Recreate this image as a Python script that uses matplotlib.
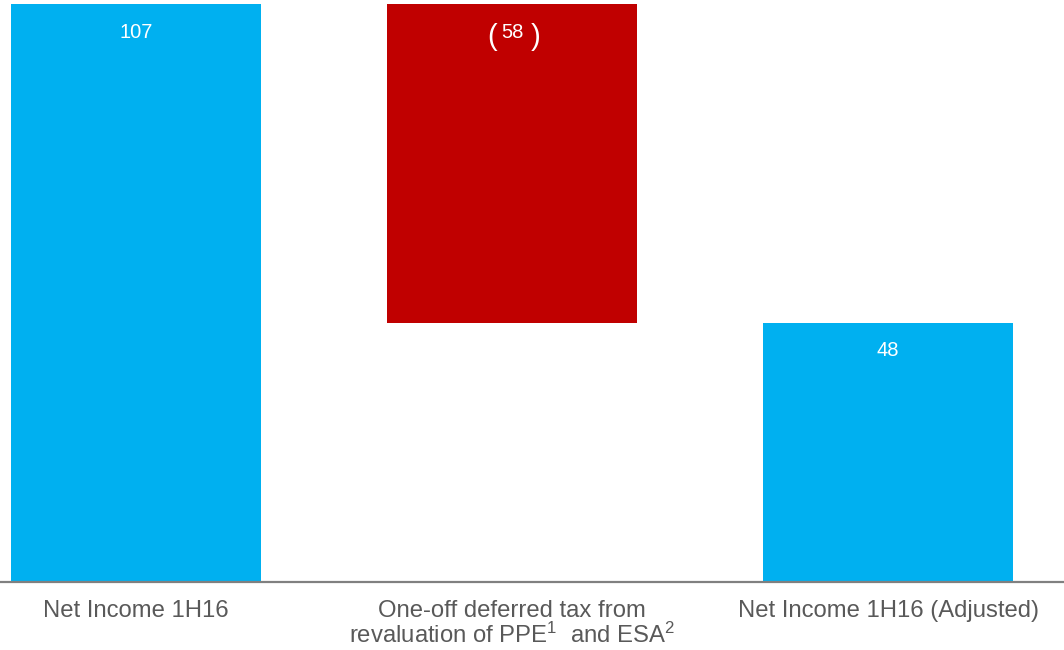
import matplotlib
matplotlib.use("Agg")
import matplotlib.pyplot as plt

plt.rcParams["font.family"] = ["Liberation Sans", "DejaVu Sans"]
plt.rcParams["mathtext.fontset"] = "custom"
plt.rcParams["mathtext.rm"] = "Liberation Sans"
plt.rcParams["mathtext.it"] = "Liberation Sans"
plt.rcParams["mathtext.default"] = "regular"

# ── Data ──────────────────────────────────────────────────────────────────────
categories = [
    "Net Income 1H16",
    "One-off deferred tax from\nrevaluation of PPE$^{1}$  and ESA$^{2}$",
    "Net Income 1H16 (Adjusted)",
]
start_value = 107
change_value = -58
end_value = 48

BLUE = "#00B0F0"
RED = "#C00000"
GREY_TXT = "#595959"

# ── Plot ──────────────────────────────────────────────────────────────────────
fig = plt.figure(figsize=(10.64, 6.5), dpi=100)
ax = fig.add_axes([0, 0.105, 1, 0.895])

x = [0, 1, 2]
w = 0.665

# waterfall: red bar hangs from the start total down to the adjusted total
ax.bar(x[0], start_value, width=w, color=BLUE)
ax.bar(x[1], start_value - end_value, bottom=end_value, width=w, color=RED)
ax.bar(x[2], end_value, width=w, color=BLUE)

lab_kw = dict(textcoords="offset points", ha="center", va="center",
              color="white", fontsize=14.5)
ax.annotate(f"{start_value}", xy=(x[0], start_value), xytext=(0, -20), **lab_kw)
ax.annotate(f"{end_value}", xy=(x[2], end_value), xytext=(0, -20), **lab_kw)

# negative shown in brackets, brackets drawn larger like the source
ax.annotate(f"{abs(change_value)}", xy=(x[1], start_value), xytext=(0, -20), **lab_kw)
ax.annotate("(", xy=(x[1], start_value), xytext=(-14.5, -23.5),
            textcoords="offset points", ha="center", va="center",
            color="white", fontsize=21)
ax.annotate(")", xy=(x[1], start_value), xytext=(17, -23.5),
            textcoords="offset points", ha="center", va="center",
            color="white", fontsize=21)

ax.set_xlim(-0.3617, 2.468)
ax.set_ylim(0, 107.8)

ax.set_xticks(x)
ax.set_xticklabels(categories, fontsize=17.2, color=GREY_TXT, linespacing=1.05)
ax.tick_params(axis="x", length=0, pad=13)
ax.set_yticks([])

for s in ["top", "left", "right"]:
    ax.spines[s].set_visible(False)
ax.spines["bottom"].set_color("#808080")
ax.spines["bottom"].set_linewidth(1.6)

plt.savefig("out.png", dpi=100)
plt.close()
